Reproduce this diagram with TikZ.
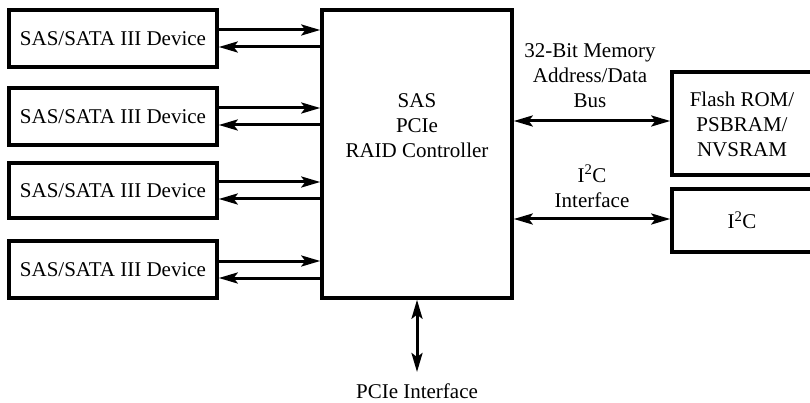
\documentclass[tikz,border=0pt]{standalone}
\usepackage{fontspec}
\setmainfont{Liberation Serif}
\usetikzlibrary{arrows.meta}
\begin{document}
\begin{tikzpicture}[x=1pt,y=-1pt,
  box/.style={draw,line width=3.5pt,inner sep=0pt,align=center},
  txt/.style={inner sep=0pt,align=center},
  arr/.style={line width=3pt,-{Stealth[length=19pt,width=11pt,inset=4pt]}},
  darr/.style={line width=3pt,{Stealth[length=19pt,width=11pt,inset=4pt]}-{Stealth[length=19pt,width=11pt,inset=4pt]}},
  every node/.append style={font=\fontsize{21}{25}\selectfont}]
\useasboundingbox (0,0) rectangle (810,403);
\clip (0,0) rectangle (810,403);
\node[box,minimum width=208pt,minimum height=57pt] (d1) at (113,38.5) {SAS/SATA III Device};
\node[box,minimum width=208pt,minimum height=57pt] (d2) at (113,116.5) {SAS/SATA III Device};
\node[box,minimum width=208pt,minimum height=55pt] (d3) at (113,190.5) {SAS/SATA III Device};
\node[box,minimum width=208pt,minimum height=57pt] (d4) at (113,269.5) {SAS/SATA III Device};
\node[box,minimum width=190pt,minimum height=288pt] (c) at (417,154) {};
\node[txt] (ct) at (417,126) {SAS\\PCIe\\RAID Controller};
\node[box,minimum width=143pt,minimum height=103pt] (f) at (743.5,123.5) {};
\node[txt] (ft) at (742,124) {Flash ROM/\\PSBRAM/\\NVSRAM};
\node[box,minimum width=143pt,minimum height=63pt] (i) at (743.5,220.5) {};
\node[txt] (it) at (742,220) {I\textsuperscript{2}C};
\node[txt] (ml) at (590,76) {32-Bit Memory\\Address/Data\\Bus};
\node[txt] (il) at (592,186) {I\textsuperscript{2}C\\Interface};
\node[txt] (pl) at (417,391) {PCIe Interface};
\coordinate (pe) at (417,372);
\foreach \d in {d1,d2,d3,d4}{
  \draw[arr] ([yshift=8.5pt]\d.east) -- ([yshift=8.5pt]\d.east -| c.west);
  \draw[arr] ([yshift=-8.5pt]\d.east -| c.west) -- ([yshift=-8.5pt]\d.east);
}
\draw[darr] (c.east |- 0,121) -- (f.west |- 0,121);
\draw[darr] (c.east |- 0,219) -- (i.west |- 0,219);
\draw[darr] (c.south) -- (pe);
\end{tikzpicture}
\end{document}
